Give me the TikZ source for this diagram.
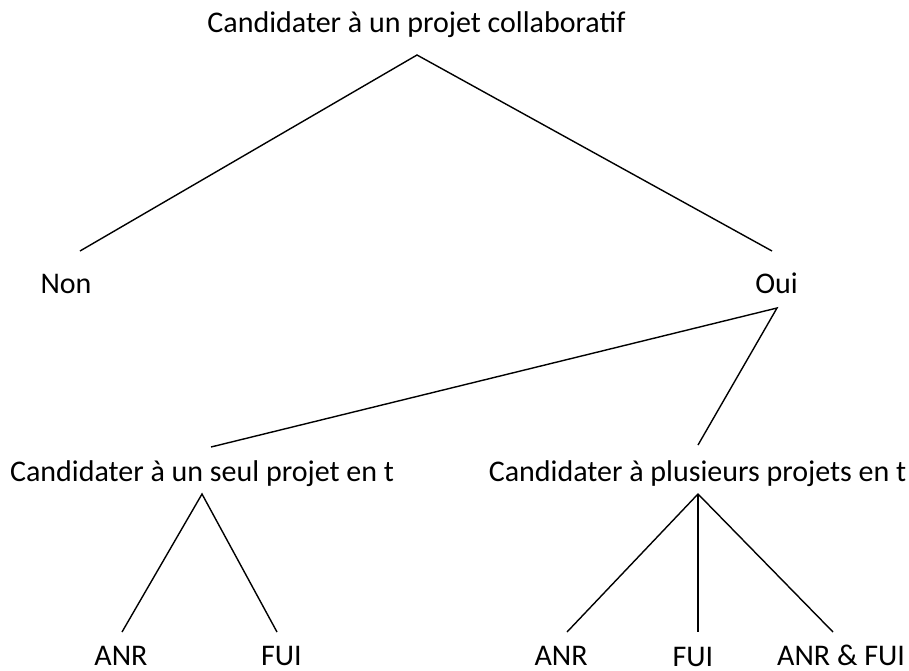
\documentclass[tikz,border=0pt]{standalone}
\usepackage{fontspec}
\setmainfont{Carlito}
\begin{document}
\begin{tikzpicture}[x=1pt,y=-1pt,
  lbl/.style={anchor=base,inner sep=0pt,font=\fontsize{30}{34}\selectfont},
  edge/.style={line width=1.4pt,black}]
\useasboundingbox (0,0) rectangle (909,670);
% labels
\node[lbl] (root) at (416.5,32) {Candidater à un projet collaboratif};
\node[lbl] (non) at (66,293) {Non};
\node[lbl] (oui) at (776.5,293) {Oui};
\node[lbl] (seul) at (202,481) {Candidater à un seul projet en t};
\node[lbl] (plus) at (697.5,481) {Candidater à plusieurs projets en t};
\node[lbl] (anra) at (121,665) {ANR};
\node[lbl] (fuia) at (281.5,665) {FUI};
\node[lbl] (anrb) at (561,665) {ANR};
\node[lbl] (fuib) at (693,666) {FUI};
\node[lbl] (both) at (841,665) {ANR \& FUI};
% connector end points
\coordinate (rootB) at (417,55);
\coordinate (nonT) at (80,251);
\coordinate (ouiT) at (772,251);
\coordinate (ouiB) at (777,308);
\coordinate (seulT) at (211,447);
\coordinate (plusT) at (698,445);
\coordinate (seulB) at (202,494);
\coordinate (plusB) at (698,494);
\coordinate (anraT) at (122,632);
\coordinate (fuiaT) at (277,632);
\coordinate (anrbT) at (567,632);
\coordinate (fuibT) at (698,632);
\coordinate (bothT) at (833,632);
% connectors
\draw[edge] (nonT) -- (rootB) -- (ouiT);
\draw[edge] (seulT) -- (ouiB) -- (plusT);
\draw[edge] (anraT) -- (seulB) -- (fuiaT);
\draw[edge] (anrbT) -- (plusB) -- (bothT);
\draw[edge] (plusB) -- (fuibT);
\end{tikzpicture}
\end{document}
